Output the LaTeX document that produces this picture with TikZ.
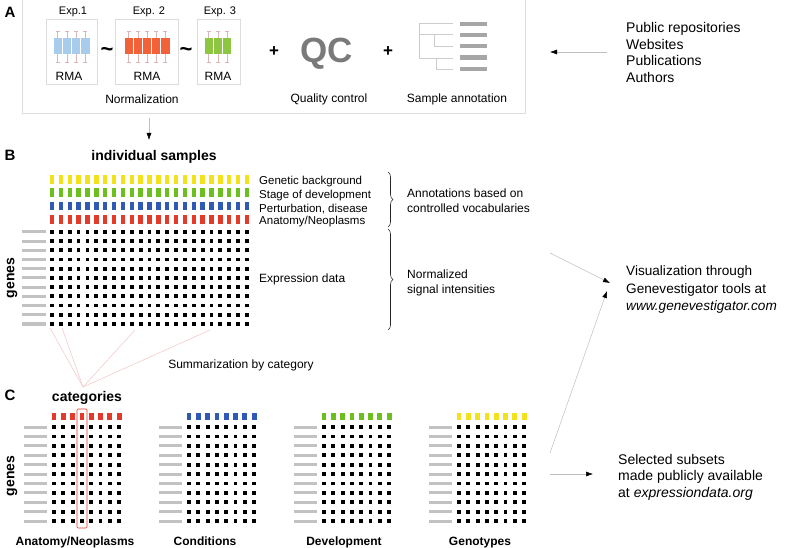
\documentclass[tikz,border=0pt]{standalone}
\usepackage{fontspec}
\setmainfont{Liberation Sans}
\usetikzlibrary{arrows.meta,decorations.pathreplacing}
\definecolor{expblue}{HTML}{A8CCEB}
\definecolor{exporange}{HTML}{F26138}
\definecolor{expgreen}{HTML}{8DC640}
\definecolor{annyellow}{HTML}{F2E21B}
\definecolor{anngreen}{HTML}{6DBE1F}
\definecolor{annblue}{HTML}{2F59B2}
\definecolor{annred}{HTML}{E33A2C}
\definecolor{genegray}{HTML}{C2C2C2}
\definecolor{framegray}{HTML}{DDDDDD}
\definecolor{linkpink}{HTML}{F2C4C4}
\definecolor{qcgray}{HTML}{7A7A7A}
\begin{document}
\begin{tikzpicture}[x=1pt,y=-1pt]
		\tikzstyle{txt}=[inner sep=0pt,font=\fontsize{12}{14}\selectfont]
		\tikzstyle{big}=[inner sep=0pt,align=left,anchor=west,font=\fontsize{14}{16.4}\selectfont]
		\tikzstyle{bold}=[inner sep=0pt,anchor=base,font=\fontsize{12}{14}\selectfont\bfseries]
		\tikzstyle{panel}=[inner sep=0pt,font=\fontsize{15}{15}\selectfont\bfseries]
		\tikzstyle{expbox}=[draw=framegray,line width=0.6pt,inner sep=0pt]
		\tikzstyle{whisk}=[draw=linkpink!80!gray,line width=0.4pt]
		\tikzstyle{arr}=[draw=black!25,line width=0.5pt,-{Latex[color=black,length=7pt,width=5pt]}]
		\tikzstyle{link}=[draw=linkpink,line width=0.5pt]
		\tikzstyle{brace}=[draw=black!85,line width=0.6pt,decorate,decoration={brace,amplitude=5pt}]
		\useasboundingbox (0,0) rectangle (785,548);
		% A: normalization, QC, annotation
		\draw[framegray,line width=0.6pt] (22,-5) -- (22,113) -- (525,113) -- (525,-5);
		\node[panel](labA)at(10,12){A};
		\node[expbox,minimum width=51pt,minimum height=65pt](exp1)at(71.5,51.5){};
		\node[expbox,minimum width=63pt,minimum height=65pt](exp2)at(146.5,51.5){};
		\node[expbox,minimum width=43pt,minimum height=65pt](exp3)at(218.5,51.5){};
		\foreach \x/\n/\w/\col in {53/3/9.25/expblue,124/4/9.2/exporange,204/2/9.33/expgreen}{
			\foreach \i in {0,...,\n}{
				\draw[whisk] ({\x+\w*\i+\w/2},31) -- ({\x+\w*\i+\w/2},62);
				\draw[whisk] ({\x+\w*\i+\w/2-2},31) -- ({\x+\w*\i+\w/2+2},31);
				\draw[whisk] ({\x+\w*\i+\w/2-2},62) -- ({\x+\w*\i+\w/2+2},62);
				\fill[\col] ({\x+\w*\i+0.5},38) rectangle ++({\w-1},16);
			}
		}
		\node[txt,font=\fontsize{11}{13}\selectfont](e1)at(73,12){Exp.1};
		\node[txt,font=\fontsize{11}{13}\selectfont](e2)at(149,12){Exp. 2};
		\node[txt,font=\fontsize{11}{13}\selectfont](e3)at(220,12){Exp. 3};
		\node[txt](r1)at(69,76){RMA};
		\node[txt](r2)at(147,76){RMA};
		\node[txt](r3)at(218,76){RMA};
		\node[inner sep=0pt,font=\fontsize{22}{22}\selectfont\bfseries](t1)at(107,52){\textasciitilde};
		\node[inner sep=0pt,font=\fontsize{22}{22}\selectfont\bfseries](t2)at(186,52){\textasciitilde};
		\node[inner sep=0pt,font=\fontsize{17}{17}\selectfont\bfseries](p1)at(274,52){+};
		\node[inner sep=0pt,font=\fontsize{17}{17}\selectfont\bfseries](p2)at(388,52){+};
		\node[inner sep=0pt,text=qcgray,font=\fontsize{35}{35}\selectfont\bfseries](qc)at(327,54){QC};
		\draw[black!20,line width=0.6pt] (453,23) -- (419,23) -- (419,58) -- (453,58);
		\draw[black!20,line width=0.6pt] (419,34) -- (453,34);
		\draw[black!20,line width=0.6pt] (434,34) -- (434,46) -- (453,46);
		\draw[black!20,line width=0.6pt] (436,58) -- (436,69) -- (453,69);
		\foreach \y in {24,35,46,57.5,69}
			\fill[black!35] (460,{\y-2.3}) rectangle (487,{\y+2.3});
		\node[txt](norm)at(142,99){Normalization};
		\node[txt](qual)at(329,99){Quality control};
		\node[txt](samp)at(457,99){Sample annotation};
		\node[big](repo)at(626,52.5){Public repositories\\Websites\\Publications\\Authors};
		\coordinate (repoout) at (607,52);
		\coordinate (annin) at (550,52);
		\draw[arr] (repoout) -- (annin);
		\coordinate (normout) at (149,118);
		\coordinate (sampin) at (149,140);
		\draw[arr] (normout) -- (sampin);
		% B: individual samples
		\node[panel](labB)at(10,155){B};
		\node[inner sep=0pt,font=\fontsize{14}{14}\selectfont\bfseries](indiv)at(154,157){individual samples};
		\foreach \c in {0,...,22}{
			\foreach \y/\col in {179.5/annyellow,192.8/anngreen,206.1/annblue,219.4/annred}
				\fill[\col] ({52+\c*8.86-2.2},{\y-4.3}) rectangle ++(4.4,8.6);
			\foreach \r in {0,...,10}
				\fill ({52+\c*8.86-1.9},{232+\r*9.2-1.9}) rectangle ++(3.8,3.8);
		}
		\foreach \r in {0,...,10}
			\fill[genegray] (22,{232+\r*9.2-1.5}) rectangle (46,{232+\r*9.2+1.5});
		\node[inner sep=0pt,rotate=90,font=\fontsize{14}{14}\selectfont\bfseries](genesB)at(12,278){genes};
		\node[txt,anchor=west,font=\fontsize{11.5}{13}\selectfont](gb)at(259,182){Genetic background};
		\node[txt,anchor=west,font=\fontsize{11.5}{13}\selectfont](sd)at(259,195.5){Stage of development};
		\node[txt,anchor=west,font=\fontsize{11.5}{13}\selectfont](pd)at(259,209){Perturbation, disease};
		\node[txt,anchor=west,font=\fontsize{11.5}{13}\selectfont](an)at(259,222){Anatomy/Neoplasms};
		\node[txt,anchor=west](ed)at(259,279){Expression data};
		\draw[brace] (388,172) -- (388,227);
		\draw[brace] (388,229) -- (388,330);
		\node[txt,anchor=west,align=left,font=\fontsize{12}{15}\selectfont](annot)at(407,200.5){Annotations based on\\controlled vocabularies};
		\node[txt,anchor=west,align=left,font=\fontsize{12}{15}\selectfont](signal)at(407,282.5){Normalized\\signal intensities};
		\node[big,font=\fontsize{13.6}{17.5}\selectfont](vis)at(626,289.5){Visualization through\\Genevestigator tools at\\\textit{www.genevestigator.com}};
		\coordinate (bout) at (550,253);
		\coordinate (visin) at (610,283);
		\draw[arr] (bout) -- (visin);
		% summarization lines
		\coordinate (catpt) at (83,387);
		\foreach \x/\y in {50/328,62/328,135/330,210/330}
			\draw[link] (catpt) -- (\x,\y);
		\node[txt](summ)at(241,365){Summarization by category};
		% C: categories
		\node[panel](labC)at(10,395){C};
		\node[inner sep=0pt,font=\fontsize{14}{14}\selectfont\bfseries](cats)at(87,398){categories};
		\foreach \px/\col in {54/annred,189/annblue,324/anngreen,459/annyellow}{
			\foreach \c in {0,...,7}{
				\fill[\col] ({\px+\c*9.3-2.4},412.5) rectangle ++(4.8,7.5);
				\foreach \r in {0,...,10}
					\fill ({\px+\c*9.3-1.9},{427+\r*9.4-1.9}) rectangle ++(3.8,3.8);
			}
			\foreach \r in {0,...,10}
				\fill[genegray] ({\px-30},{427+\r*9.4-1.5}) rectangle ({\px-7},{427+\r*9.4+1.5});
		}
		\draw[annred,line width=0.6pt,rounded corners=1pt] (77,409) rectangle (87,528);
		\node[inner sep=0pt,rotate=90,font=\fontsize{14}{14}\selectfont\bfseries](genesC)at(12,476){genes};
		\node[bold](canat)at(75,545){Anatomy/Neoplasms};
		\node[bold](ccond)at(205,545){Conditions};
		\node[bold](cdev)at(344,545){Development};
		\node[bold](cgen)at(480,545){Genotypes};
		\coordinate (cout1) at (550,453);
		\coordinate (visin2) at (607,291);
		\draw[arr] (cout1) -- (visin2);
		\coordinate (cout2) at (550,474);
		\coordinate (selin) at (593,474);
		\draw[arr] (cout2) -- (selin);
		\node[big](sel)at(618,477){Selected subsets\\made publicly available\\at \textit{expressiondata.org}};
\end{tikzpicture}
\end{document}
